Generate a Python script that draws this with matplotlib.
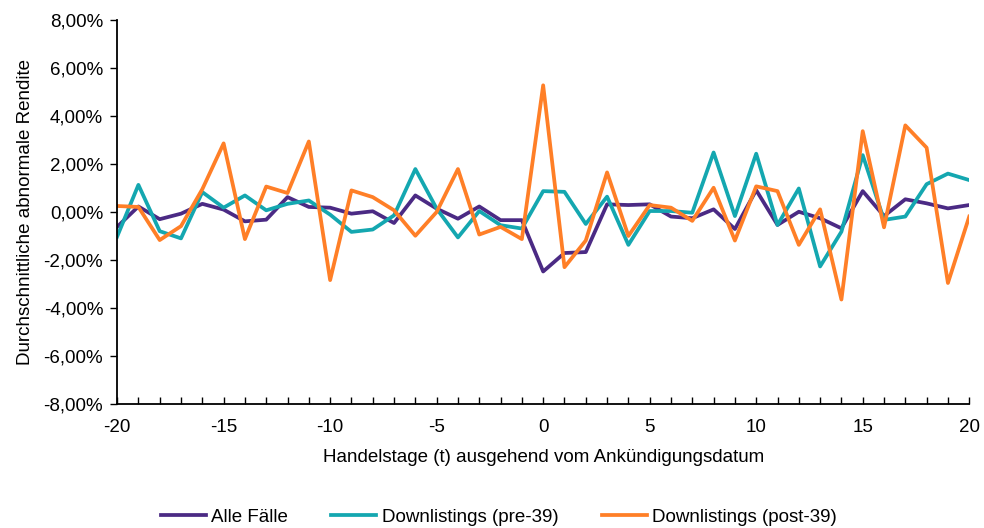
import matplotlib
matplotlib.use("Agg")
import matplotlib.pyplot as plt
from matplotlib.ticker import MultipleLocator, FuncFormatter

plt.rcParams['font.family'] = ['Liberation Sans', 'DejaVu Sans']
plt.rcParams['axes.unicode_minus'] = False

days = list(range(-20, 21))

alle_faelle = [-0.62, 0.23, -0.30, -0.07, 0.34, 0.10, -0.39, -0.32, 0.62, 0.21,
               0.18, -0.07, 0.03, -0.46, 0.69, 0.14, -0.28, 0.23, -0.34, -0.34,
               -2.48, -1.71, -1.67, 0.32, 0.29, 0.32, -0.19, -0.26, 0.11, -0.71,
               0.91, -0.54, 0.01, -0.26, -0.68, 0.87, -0.17, 0.53, 0.36, 0.15, 0.29]

pre_39 = [-1.03, 1.13, -0.80, -1.10, 0.83, 0.18, 0.69, 0.07, 0.34, 0.48,
          -0.11, -0.83, -0.73, -0.14, 1.79, 0.14, -1.06, 0.04, -0.55, -0.69,
          0.87, 0.84, -0.50, 0.64, -1.37, 0.04, 0.04, -0.03, 2.48, -0.17,
          2.43, -0.54, 0.98, -2.27, -0.82, 2.37, -0.33, -0.19, 1.16, 1.60, 1.33]

post_39 = [0.25, 0.21, -1.17, -0.59, 0.95, 2.86, -1.13, 1.06, 0.79, 2.94,
           -2.84, 0.90, 0.62, 0.07, -0.99, 0.00, 1.79, -0.94, -0.62, -1.13,
           5.28, -2.30, -1.19, 1.65, -1.00, 0.29, 0.18, -0.37, 1.01, -1.19,
           1.07, 0.87, -1.37, 0.11, -3.65, 3.37, -0.64, 3.61, 2.68, -2.96, -0.19]

series_labels = ["Alle Fälle", "Downlistings (pre-39)", "Downlistings (post-39)"]
colors = ["#4B2A84", "#14A7B0", "#FF7F27"]

FS = 13.5

fig = plt.figure(figsize=(9.84, 5.28), dpi=100)
ax = fig.add_axes([0.119, 0.235, 0.866, 0.727])

for vals, lab, col in zip([alle_faelle, pre_39, post_39], series_labels, colors):
    ax.plot(days, vals, color=col, lw=2.7, label=lab)

ax.set_xlim(-20, 20)
ax.set_ylim(-8, 8)
ax.xaxis.set_major_locator(MultipleLocator(5))
ax.xaxis.set_minor_locator(MultipleLocator(1))
ax.yaxis.set_major_locator(MultipleLocator(2))
ax.yaxis.set_major_formatter(FuncFormatter(lambda v, p: ("%.2f%%" % v).replace(".", ",")))

for s in ["top", "right"]:
    ax.spines[s].set_visible(False)
for s in ["left", "bottom"]:
    ax.spines[s].set_linewidth(1.3)

ax.tick_params(axis='x', which='both', direction='in', length=5, width=1, labelsize=FS, pad=11)
ax.tick_params(axis='y', which='both', direction='out', length=5, width=1, labelsize=FS, pad=5)

ax.set_xlabel("Handelstage (t) ausgehend vom Ankündigungsdatum", fontsize=FS, labelpad=9)
ax.set_ylabel("Durchschnittliche abnormale Rendite", fontsize=FS, labelpad=7)

fig.legend(loc='lower center', bbox_to_anchor=(0.507, -0.028), ncol=3, frameon=False,
           fontsize=FS, handlelength=2.4, columnspacing=2.3, handletextpad=0.3)

fig.savefig("out.png", dpi=100)
